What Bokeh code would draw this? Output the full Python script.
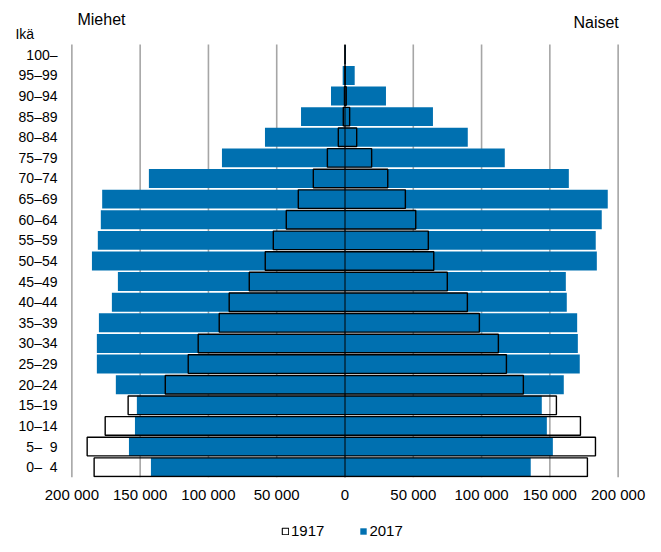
from bokeh.plotting import figure
from bokeh.layouts import column
from bokeh.models import ColumnDataSource, FixedTicker, Legend, LegendItem, Range1d
from bokeh.core.properties import value
from bokeh.embed import file_html
from bokeh.resources import INLINE

age_groups = ["0\u2013\u20074", "5\u2013\u20079", "10\u201314", "15\u201319", "20\u201324", "25\u201329",
              "30\u201334", "35\u201339", "40\u201344", "45\u201349", "50\u201354", "55\u201359",
              "60\u201364", "65\u201369", "70\u201374", "75\u201379", "80\u201384", "85\u201389",
              "90\u201394", "95\u201399", "100\u2013"]

men_2017 = [142100, 158200, 153800, 152400, 167800, 181700, 181700, 180200, 170700, 166300,
            185300, 181000, 178800, 177800, 143600, 90100, 58600, 32200, 10250, 1700, 150]
women_2017 = [136000, 152200, 147800, 144100, 160200, 171900, 170500, 170000, 162400, 161700,
              184400, 183600, 188000, 192400, 163900, 117000, 89900, 64400, 30000, 7100, 700]
men_1917 = [183700, 188800, 175600, 158800, 131600, 114800, 107500, 92100, 84800, 70100,
            58400, 52500, 43000, 34200, 23200, 12900, 4900, 1250, 400, 50, 5]
women_1917 = [177500, 183400, 172400, 154800, 130600, 118200, 112300, 98400, 89600, 74900,
              65000, 61000, 51800, 44200, 31300, 19500, 8550, 3400, 900, 150, 10]

x_ticks = [-200000, -150000, -100000, -50000, 0, 50000, 100000, 150000, 200000]
x_tick_labels = ["200 000", "150 000", "100 000", "50 000", "0", "50 000", "100 000", "150 000", "200 000"]

axis_title = "Ikä"
side_titles = ["Miehet", "Naiset"]
years = ["1917", "2017"]

FONT = "Liberation Sans"
BLUE = "#0070b0"
GRID = "#a6a6a6"

n = len(age_groups)
idx = list(range(n))
src17 = ColumnDataSource(dict(y=idx, left=[-m for m in men_2017], right=women_2017))
src19 = ColumnDataSource(dict(y=idx, left=[-m for m in men_1917], right=women_1917))

y_top = n - 0.5 + 1.938      # room above the bars for the header texts
ika_pos = n - 0.5 + 0.53

p = figure(width=655, height=512, output_backend="svg", toolbar_location=None,
           x_range=Range1d(-201000, 201000), y_range=Range1d(-0.5, y_top),
           min_border_left=70, min_border_right=36, min_border_top=4, min_border_bottom=35)
p.outline_line_color = None
p.background_fill_color = "white"
p.border_fill_color = "white"
p.xgrid.grid_line_color = None
p.ygrid.grid_line_color = None

# vertical grid lines, spanning only the bar area
p.segment(x0=x_ticks, y0=[-0.5] * len(x_ticks), x1=x_ticks, y1=[n - 0.5] * len(x_ticks),
          line_color=GRID, line_width=1.6)

r17 = p.hbar(y="y", left="left", right="right", height=0.92, source=src17,
             fill_color=BLUE, line_color=None)
r19 = p.hbar(y="y", left="left", right="right", height=0.9, source=src19,
             fill_color=None, line_color="black", line_width=1.4)

# zero line
p.segment(x0=[0], y0=[-0.5], x1=[0], y1=[n - 0.5], line_color="black", line_width=1)

# header texts
p.text(x=[-195900], y=[n - 0.5 + 1.21], text=[side_titles[0]], text_font=value(FONT),
       text_font_size="16px", text_align="left", text_baseline="middle", text_color="black")
p.text(x=[200500], y=[n - 0.5 + 1.07], text=[side_titles[1]], text_font=value(FONT),
       text_font_size="16px", text_align="right", text_baseline="middle", text_color="black")

p.xaxis.ticker = FixedTicker(ticks=x_ticks)
p.xaxis.major_label_overrides = {t: l for t, l in zip(x_ticks, x_tick_labels)}
ylab = {i: a for i, a in zip(idx, age_groups)}
ylab[ika_pos] = axis_title + "\u2007\u2007\u2007"
p.yaxis.ticker = FixedTicker(ticks=idx + [ika_pos])
p.yaxis.major_label_overrides = ylab
for ax in (p.xaxis, p.yaxis):
    ax.axis_line_color = None
    ax.major_tick_line_color = None
    ax.minor_tick_line_color = None
    ax.major_tick_out = 0
    ax.major_tick_in = 0
    ax.major_label_text_font = FONT
    ax.major_label_text_color = "black"
p.xaxis.major_label_text_font_size = "15px"
p.yaxis.major_label_text_font_size = "14px"
p.xaxis.major_label_standoff = 8
p.yaxis.major_label_standoff = 13

# legend strip below the chart (same data; nothing of it falls in this strip's ranges)
q = figure(width=655, height=38, output_backend="svg", toolbar_location=None,
           x_range=Range1d(0, 1), y_range=Range1d(100, 101),
           x_axis_location=None, y_axis_location=None, min_border=0)
q.outline_line_color = None
q.xgrid.grid_line_color = None
q.ygrid.grid_line_color = None
l19 = q.hbar(y="y", left="left", right="right", height=0.9, source=src19,
             fill_color=None, line_color="black", line_width=1.1)
l17 = q.hbar(y="y", left="left", right="right", height=0.92, source=src17,
             fill_color=BLUE, line_color=None)
legend = Legend(items=[LegendItem(label=years[0], renderers=[l19]), LegendItem(label=years[1], renderers=[l17])],
                orientation="horizontal", location=(211, 11))
legend.border_line_color = None
legend.background_fill_alpha = 0
legend.label_text_font = FONT
legend.label_text_font_size = "15px"
legend.label_text_color = "black"
legend.glyph_width = 8
legend.glyph_height = 8
legend.label_standoff = 2
legend.spacing = 35
legend.padding = 0
legend.margin = 0
q.add_layout(legend)

layout = column(p, q, spacing=0)
open("out.html", "w").write(file_html(layout, INLINE))
